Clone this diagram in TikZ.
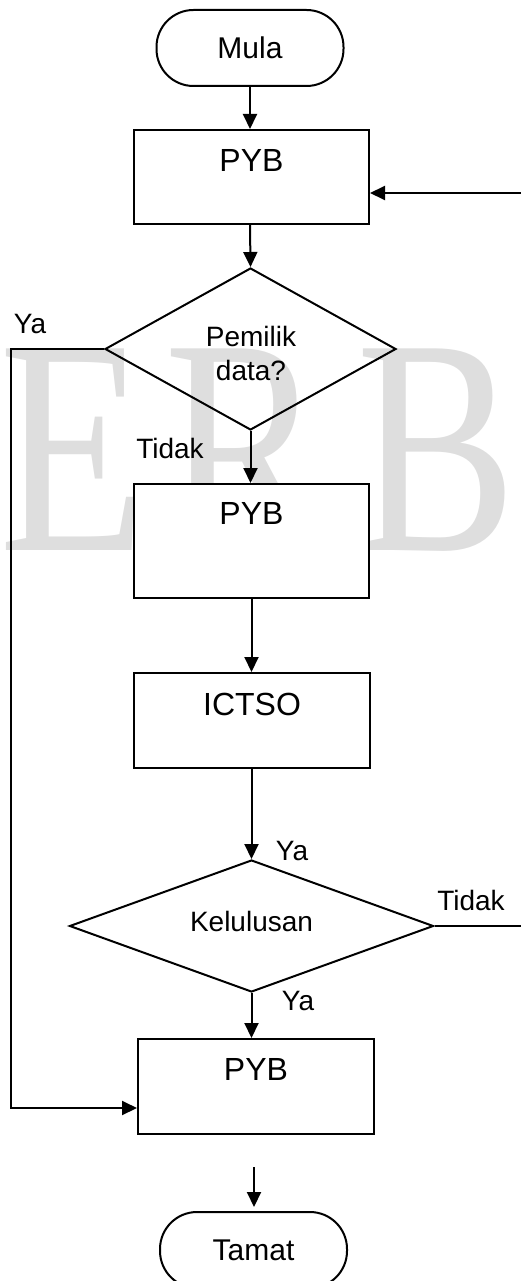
\documentclass[tikz,border=0pt]{standalone}
\usepackage{fontspec}
\setmainfont{Liberation Sans}
\newfontfamily\wmfont{Liberation Serif}
\usetikzlibrary{arrows.meta,shapes.geometric}
\tikzset{
  lw/.style={line width=2pt},
  box/.style={draw,lw,fill=white,rectangle,inner sep=0pt},
  term/.style={draw,lw,fill=white,rectangle,rounded corners=37pt,minimum width=187pt,minimum height=76pt,inner sep=0pt,font=\fontsize{30pt}{36pt}\selectfont},
  dia/.style={draw,lw,diamond,inner sep=0pt},
  big/.style={inner sep=0pt,anchor=base,font=\fontsize{32pt}{38pt}\selectfont},
  small/.style={inner sep=0pt,anchor=base,font=\fontsize{28pt}{34pt}\selectfont},
  wm/.style={inner sep=0pt,anchor=base,text=black!13,xscale=0.78,font=\wmfont\fontsize{308pt}{308pt}\selectfont},
  arr/.style={lw,-{Triangle[length=15pt,width=14pt]}}
}
\begin{document}
\begin{tikzpicture}[x=1pt,y=-1pt]
\useasboundingbox (0,0) rectangle (520,1281);
% watermark
\node[wm] (wmE) at (73,550) {E};
\node[wm] (wmR) at (245,550) {R};
\node[wm] (wmB) at (437,550) {B};
% shapes
\node[term] (mula) at (250,48) {Mula};
\node[box,minimum width=235pt,minimum height=94pt] (pyb1) at (251.5,177) {};
\node[dia,minimum width=291pt,minimum height=162pt] (d1) at (250.5,349) {};
\node[box,minimum width=235pt,minimum height=114pt] (pyb2) at (251.5,541) {};
\node[box,minimum width=236pt,minimum height=95pt] (ictso) at (252,720.5) {};
\node[dia,minimum width=364pt,minimum height=132pt] (d2) at (251.5,926) {};
\node[box,minimum width=236pt,minimum height=95pt] (pyb3) at (256,1086.5) {};
\node[term] (tamat) at (253.5,1250) {Tamat};
% texts
\node[big] (t1) at (251.5,171.7) {PYB};
\node[small] (t2) at (251,346.7) {Pemilik};
\node[small] (t3) at (251,380) {data?};
\node[big] (t4) at (251.5,524) {PYB};
\node[big] (t5) at (252,715) {ICTSO};
\node[small] (t6) at (251.5,931.7) {Kelulusan};
\node[big] (t7) at (256,1080) {PYB};
\node[small] (l1) at (30,333) {Ya};
\node[small] (l2) at (170,458) {Tidak};
\node[small] (l3) at (292,860.7) {Ya};
\node[small] (l4) at (471,910) {Tidak};
\node[small] (l5) at (298,1010) {Ya};
% connectors
\draw[arr] (mula.south -| 250,0) -- (250,129);
\draw[arr] (pyb1.south -| 250,0) -- (d1.north);
\draw[arr] (d1.south) -- (d1.south |- pyb2.north);
\draw[arr] (pyb2.south -| 251.5,0) -- (ictso.north -| 251.5,0);
\draw[arr] (ictso.south -| 251.5,0) -- (d2.north);
\draw[arr] (d2.south) -- (d2.south |- pyb3.north);
\coordinate (yaL) at (11,349);
\draw[arr] (d1.west) -- (yaL) |- ([yshift=-21.5pt]pyb3.west);
\coordinate (tR) at (532,926);
\draw[arr] (d2.east) -- (tR) |- ([yshift=-16pt]pyb1.east);
\coordinate (endA) at (254,1167);
\coordinate (endB) at (254,1207);
\draw[arr] (endA) -- (endB);
\end{tikzpicture}
\end{document}
